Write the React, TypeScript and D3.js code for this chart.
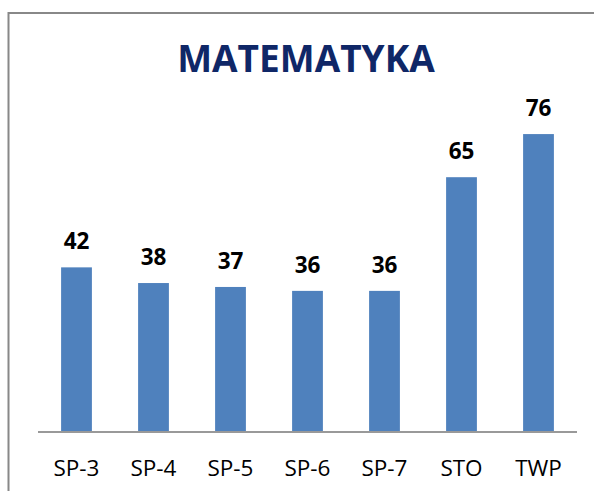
import * as d3 from 'd3'

const categories = ['SP-3', 'SP-4', 'SP-5', 'SP-6', 'SP-7', 'STO', 'TWP']
const values = [42, 38, 37, 36, 36, 65, 76]
const title = 'MATEMATYKA'

const W = 594
const H = 491
const FONT = '"Open Sans", Lato, sans-serif'

export default function App() {
  const x = d3.scaleBand<string>()
    .domain(categories)
    .range([38, 577])
    .paddingInner(0.6)
    .paddingOuter(0.3)

  const y = d3.scaleLinear()
    .domain([0, 80])
    .range([432, 118.4])

  return (
    <svg
      width={W}
      height={H}
      style={{ position: 'absolute', left: 0, top: 0, background: '#fff' }}
    >
      {/* chart border (cut off at right and bottom) */}
      <rect x={8.5} y={13} width={W} height={H} fill="none" stroke="#888" strokeWidth={2} />

      <text
        x={306}
        y={72}
        textAnchor="middle"
        fontFamily={FONT}
        fontWeight={700}
        fontSize={37}
        fill="#0f2767"
      >
        {title}
      </text>

      {values.map((v, i) => {
        const cat = categories[i]
        const bx = x(cat)!
        const cx = bx + x.bandwidth() / 2
        return (
          <g key={cat}>
            <rect x={bx} y={y(v)} width={x.bandwidth()} height={y(0) - y(v)} fill="#4f81bd" />
            <text
              x={cx}
              y={y(v) - 18}
              textAnchor="middle"
              fontFamily={FONT}
              fontWeight={700}
              fontSize={22.5}
              fill="#000"
            >
              {v}
            </text>
            <text
              x={cx}
              y={476}
              textAnchor="middle"
              fontFamily={FONT}
              fontSize={22.5}
              fill="#000"
            >
              {cat}
            </text>
          </g>
        )
      })}

      {/* x axis line */}
      <line x1={38} x2={577} y1={y(0)} y2={y(0)} stroke="#999" strokeWidth={2} />
    </svg>
  )
}
